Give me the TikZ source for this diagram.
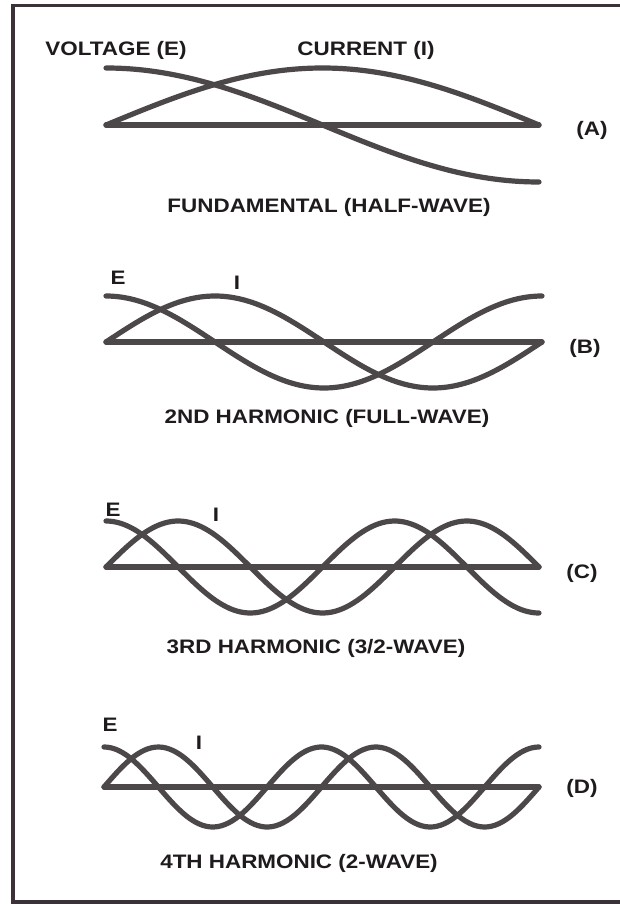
\documentclass[tikz,border=0pt]{standalone}
\usepackage{fontspec}
\setmainfont{Liberation Sans}[FakeStretch=1.15]
\begin{document}
\begin{tikzpicture}[x=1pt,y=-1pt,
  wave/.style={line width=5.2pt,draw=curvecol,line cap=round,line join=round},
  lbl/.style={inner sep=0pt,text=txtcol,font=\fontsize{19.5}{19.5}\selectfont\bfseries},
  captiontext/.style={lbl},
  tagtext/.style={lbl}]
\definecolor{curvecol}{HTML}{4C4749}
\definecolor{txtcol}{HTML}{1E1A1E}
\definecolor{framecol}{HTML}{3A3238}
\useasboundingbox (0,0) rectangle (619,904);
\fill[white] (0,0) rectangle (619,904);
% frame
\draw[line width=3.5pt,draw=framecol] (625,5.5) -- (13,5.5) -- (13,902) -- (625,902);
% waves: #1 axis y, #2 x0, #3 x1, #4 amplitude, #5 half-waves
\newcommand{\wavepanel}[5]{%
  \draw[wave] (#2,#1) -- (#3,#1);
  \draw[wave] plot[domain=0:{180*#5},samples=120,smooth,variable=\t]
     ({#2+\t/(180*#5)*(#3-#2)},{#1-#4*cos(\t)});
  \draw[wave] plot[domain=0:{180*#5},samples=120,smooth,variable=\t]
     ({#2+\t/(180*#5)*(#3-#2)},{#1-#4*sin(\t)});
}
\wavepanel{125}{106}{539}{57}{1}
\wavepanel{342}{106}{542}{46}{2}
\wavepanel{567}{106}{539}{46}{3}
\wavepanel{787}{104}{539}{40}{4}
% panel A labels
\node[lbl] (vA) at (116,50) {VOLTAGE (E)};
\node[lbl] (iA) at (366,50) {CURRENT (I)};
\node[tagtext] (tA) at (592,130) {(A)};
\node[captiontext] (cA) at (329,207) {FUNDAMENTAL (HALF-WAVE)};
% panel B
\node[lbl] (eB) at (118,278) {E};
\node[lbl] (iB) at (237,283) {I};
\node[tagtext] (tB) at (585,348) {(B)};
\node[captiontext] (cB) at (327,418) {2ND HARMONIC (FULL-WAVE)};
% panel C
\node[lbl] (eC) at (113,510) {E};
\node[lbl] (iC) at (216,515) {I};
\node[tagtext] (tC) at (582,573) {(C)};
\node[captiontext] (cC) at (316,648) {3RD HARMONIC (3/2-WAVE)};
% panel D
\node[lbl] (eD) at (110,725) {E};
\node[lbl] (iD) at (199,743) {I};
\node[tagtext] (tD) at (582,788) {(D)};
\node[captiontext] (cD) at (299,863) {4TH HARMONIC (2-WAVE)};
\end{tikzpicture}
\end{document}
